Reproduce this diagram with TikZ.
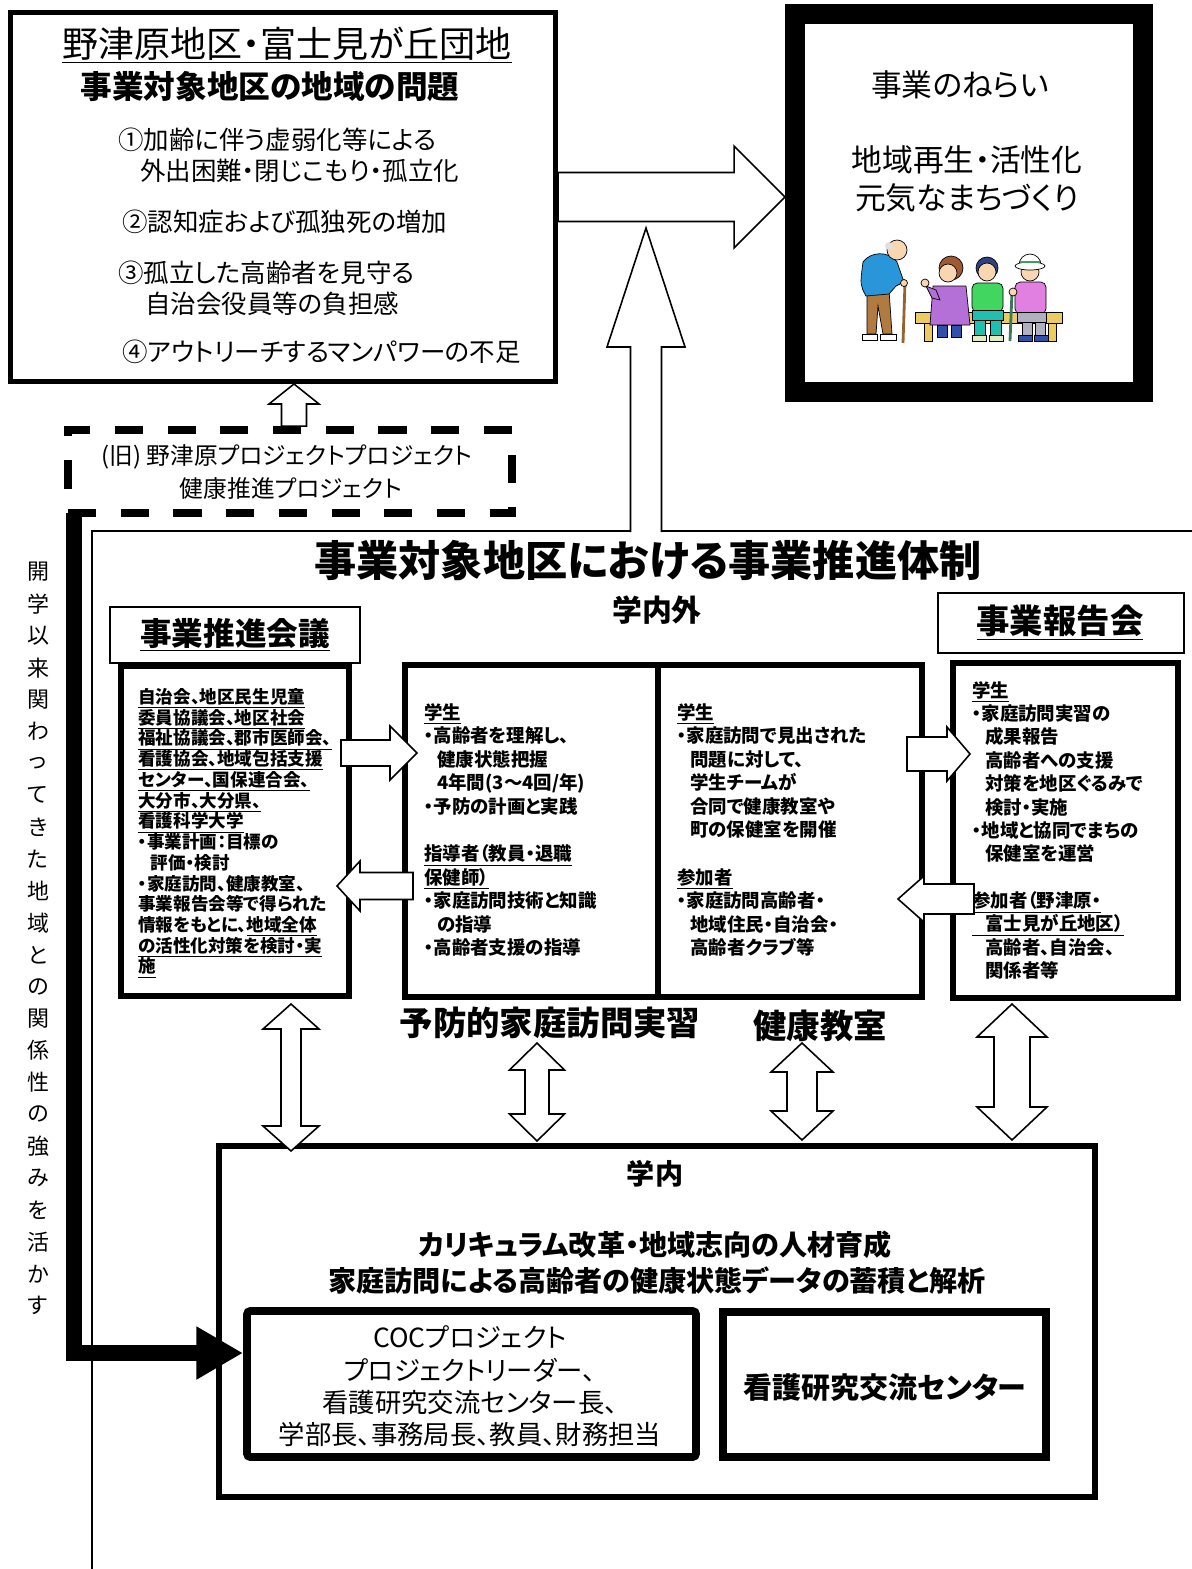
\documentclass[tikz,border=0pt]{standalone}
\usepackage{fontspec}
\setmainfont{Noto Sans CJK JP}[RawFeature=+palt]
\usetikzlibrary{calc,arrows.meta}

\definecolor{benchyellow}{RGB}{236,204,96}
\definecolor{pantbrown}{RGB}{176,122,64}
\definecolor{shirtblue}{RGB}{40,150,216}
\definecolor{skin}{RGB}{248,214,178}
\definecolor{hairbrown}{RGB}{160,90,48}
\definecolor{dresspurple}{RGB}{180,112,214}
\definecolor{legblue}{RGB}{48,80,170}
\definecolor{hairnavy}{RGB}{48,64,128}
\definecolor{shirtgreen}{RGB}{64,214,96}
\definecolor{pantteal}{RGB}{32,192,176}
\definecolor{shoecream}{RGB}{236,232,190}
\definecolor{shirtpink}{RGB}{226,128,226}
\definecolor{pantgray}{RGB}{176,176,192}
\definecolor{caneb}{RGB}{150,100,50}
\definecolor{canegreen}{RGB}{60,120,90}
\definecolor{hatgreen}{RGB}{60,160,90}

\newcommand\pxs{0.02cm}
\newcommand\indt{\hspace*{0.7em}}
% hollow block arrows: tail, tip, half shaft, half head, head length
\newcommand\arrowR[5]{\draw[hollow] ($(#1)+(0,-#3)$) -- ($(#2)+(-#5,-#3)$) -- ($(#2)+(-#5,-#4)$) -- (#2) -- ($(#2)+(-#5,#4)$) -- ($(#2)+(-#5,#3)$) -- ($(#1)+(0,#3)$) -- cycle;}
\newcommand\arrowL[5]{\draw[hollow] ($(#1)+(0,-#3)$) -- ($(#2)+(#5,-#3)$) -- ($(#2)+(#5,-#4)$) -- (#2) -- ($(#2)+(#5,#4)$) -- ($(#2)+(#5,#3)$) -- ($(#1)+(0,#3)$) -- cycle;}
\newcommand\arrowU[5]{\draw[hollow] ($(#1)+(-#3,0)$) -- ($(#2)+(-#3,#5)$) -- ($(#2)+(-#4,#5)$) -- (#2) -- ($(#2)+(#4,#5)$) -- ($(#2)+(#3,#5)$) -- ($(#1)+(#3,0)$) -- cycle;}
% double headed, top tip and bottom tip
\newcommand\arrowUD[5]{\draw[hollow] (#1) -- ($(#1)+(#4,#5)$) -- ($(#1)+(#3,#5)$) -- ($(#2)+(#3,-#5)$) -- ($(#2)+(#4,-#5)$) -- (#2) -- ($(#2)+(-#4,-#5)$) -- ($(#2)+(-#3,-#5)$) -- ($(#1)+(-#3,#5)$) -- ($(#1)+(-#4,#5)$) -- cycle;}

\tikzset{
  probbox/.style={draw, line width=2.8pt, inner sep=0},
  aimbox/.style={draw, line width=11.3pt, inner sep=0},
  unitbox/.style={draw, line width=3.4pt, inner sep=0},
  tagbox/.style={draw, line width=0.8pt, inner sep=0},
  cocbox/.style={draw, line width=4.5pt, inner sep=0, rounded corners=2pt},
  oldbox/.style={draw, line width=4.5pt, dash pattern=on 16pt off 14pt, inner sep=0},
  hollow/.style={draw, fill=white, line width=0.9pt, line join=miter},
  feeder/.style={line width=9pt, -{Triangle[length=26.6pt,width=28.4pt]}},
  item/.style={anchor=west, inner sep=0, font=\fontsize{14.5}{17}\selectfont},
  body/.style={inner sep=0, align=left, anchor=north west},
  head/.style={inner sep=0, font=\fontsize{#1}{#1}\selectfont\bfseries},
  plain/.style={inner sep=0, font=\fontsize{#1}{#1}\selectfont},
  vchar/.style={inner sep=0, font=\fontsize{12.5}{12.5}\selectfont},
  figline/.style={line width=0.4pt}
}

\begin{document}
\begin{tikzpicture}[x=0.02cm, y=-0.02cm]
\useasboundingbox (0,0) rectangle (1192,1569);

\draw[line width=0.8pt] (92,1569) -- (92,531) -- (1192,531);

% problems of the district
\node[probbox, minimum width=545*\pxs, minimum height=369*\pxs] (prob) at (283,197) {};
\node[plain=20.5] (area) at (287,45) {\underline{野津原地区・富士見が丘団地}};
\node[head=18] (issue) at (270,87) {事業対象地区の地域の問題};
\node[item] (p1a) at (118,140) {①加齢に伴う虚弱化等による};
\node[item] (p1b) at (140,171) {外出困難・閉じこもり・孤立化};
\node[item] (p2) at (122,222) {②認知症および孤独死の増加};
\node[item] (p3a) at (118,273) {③孤立した高齢者を見守る};
\node[item] (p3b) at (145,304) {自治会役員等の負担感};
\node[item] (p4) at (122,352) {④アウトリーチするマンパワーの不足};

% aims
\node[aimbox, minimum width=348*\pxs, minimum height=378*\pxs] (aims) at (969,203) {};
\node[plain=17.5] (aim1) at (960,85) {事業のねらい};
\node[plain=17.5] (aim2) at (967,160) {地域再生・活性化};
\node[plain=17.5] (aim3) at (967,198) {元気なまちづくり};

% people on the bench
\begin{scope}[figline]
\filldraw[fill=benchyellow] (915,312) rectangle (1062,323);
\filldraw[fill=benchyellow] (924,323) rectangle (932,341);
\filldraw[fill=benchyellow] (1048,323) rectangle (1056,341);
\filldraw[fill=pantbrown] (867,290) -- (889,290) -- (892,334) -- (883,334) -- (878,306) -- (876,334) -- (867,334) -- cycle;
\filldraw[fill=white] (862,334) rectangle (877,340);
\filldraw[fill=white] (880,334) rectangle (896,340);
\filldraw[fill=shirtblue] (863,262) .. controls (870,252) and (888,250) .. (897,262) -- (904,282) -- (896,286) -- (889,294) -- (866,296) .. controls (860,285) .. (863,262) -- cycle;
\filldraw[fill=skin] (897,250) circle[radius=10];
\fill[gray!25] (889,246) circle[radius=4];
\draw[line width=1.6pt, caneb] (905,283) -- (903,343);
\filldraw[fill=skin] (904,283) circle[radius=3.5];
\filldraw[fill=hairbrown] (951,268) circle[radius=12];
\filldraw[fill=skin] (948,273) circle[radius=9];
\filldraw[fill=dresspurple] (933,286) -- (966,286) -- (970,325) -- (930,325) -- cycle;
\filldraw[fill=legblue] (937,325) rectangle (947,337);
\filldraw[fill=legblue] (951,325) rectangle (961,337);
\filldraw[fill=dresspurple] (926,286) -- (936,290) -- (940,300) -- (932,298) -- cycle;
\filldraw[fill=skin] (925,283) circle[radius=4];
\filldraw[fill=hairnavy] (987,268) circle[radius=11];
\filldraw[fill=skin] (987,272) circle[radius=9];
\filldraw[fill=shirtgreen, rounded corners=3pt] (972,283) rectangle (1003,312);
\filldraw[fill=pantteal] (972,310) rectangle (1003,320);
\filldraw[fill=pantteal] (974,320) rectangle (985,337);
\filldraw[fill=pantteal] (990,320) rectangle (1001,337);
\filldraw[fill=shoecream] (972,335) rectangle (986,341);
\filldraw[fill=shoecream] (989,335) rectangle (1003,341);
\filldraw[fill=shirtpink, rounded corners=3pt] (1015,282) rectangle (1046,314);
\filldraw[fill=pantgray] (1017,312) rectangle (1046,322);
\filldraw[fill=pantgray] (1022,322) rectangle (1032,337);
\filldraw[fill=pantgray] (1035,322) rectangle (1045,337);
\filldraw[fill=legblue] (1018,335) rectangle (1032,341);
\filldraw[fill=legblue] (1034,335) rectangle (1048,341);
\filldraw[fill=skin] (1030,272) circle[radius=9];
\filldraw[fill=white] (1019,265) arc[start angle=180, end angle=360, radius=11] -- cycle;
\filldraw[fill=white] (1030,266) ellipse[x radius=15, y radius=4];
\draw[hatgreen, line width=1.2pt] (1020,262) -- (1040,262);
\draw[line width=1.6pt, canegreen] (1012,292) -- (1010,341);
\filldraw[fill=skin] (1013,292) circle[radius=4];
\end{scope}

\coordinate (aimtip) at (aims.west |- prob.east);
\arrowR{prob.east}{aimtip}{24.5}{51}{51}

\coordinate (uptail) at (646,532);
\coordinate (uptip) at (646,228);
\fill[white] ($(uptail)+(-15.5,0)$) |- ($(uptip)+(-39,119)$) -- (uptip) -- ($(uptip)+(39,119)$) -| ($(uptail)+(15.5,0)$) -- cycle;
\draw[line width=0.9pt, line join=miter] ($(uptail)+(-15.5,0)$) |- ($(uptip)+(-39,119)$) -- (uptip) -- ($(uptip)+(39,119)$) -| ($(uptail)+(15.5,0)$);

% former project
\node[oldbox, minimum width=444*\pxs, minimum height=83*\pxs] (old) at (290,471.5) {};
\node[plain=13.5] (old1) at (287,457) {(旧) 野津原プロジェクトプロジェクト};
\node[plain=13.5] (old2) at (291,489) {健康推進プロジェクト};
\coordinate (oldtop) at (294,0 |- old.north);
\coordinate (probbot) at (294,0 |- prob.south);
\arrowU{oldtop}{probbot}{12.5}{25}{20}

% promotion system
\node[head=24] (system) at (648,560) {事業対象地区における事業推進体制};
\node[head=17] (outside) at (657,610) {学内外};

\node[tagbox, minimum width=250*\pxs, minimum height=56*\pxs] (counciltag) at (235,635) {};
\node[head=18] (counciltitle) at (235,635) {\underline{事業推進会議}};
\node[unitbox, minimum width=228*\pxs, minimum height=330*\pxs] (council) at (235,831) {};
\node[body, font=\fontsize{10}{11.8}\selectfont\bfseries] (counciltext) at (138,688) {%
\underline{自治会、地区民生児童}\\
\underline{委員協議会、地区社会}\\
\underline{福祉協議会、郡市医師会、}\\
\underline{看護協会、地域包括支援}\\
\underline{センター、国保連合会、}\\
\underline{大分市、大分県、}\\
\underline{看護科学大学}\\
・事業計画：目標の\\
\indt 評価・検討\\
・家庭訪問、健康教室、\\
事業報告会等で得られた\\
情報をもとに、\underline{地域全体}\\
\underline{の活性化対策を検討・実}\\
\underline{施}};

\node[unitbox, minimum width=517*\pxs, minimum height=332*\pxs] (mid) at (663.5,831) {};
\draw[line width=3.4pt] (658,0 |- mid.north) -- (658,0 |- mid.south);
\node[body, font=\fontsize{10.5}{13.4}\selectfont\bfseries] (visit) at (424,703) {%
\underline{学生}\\
・高齢者を理解し、\\
\indt 健康状態把握\\
\indt 4年間(3～4回/年)\\
・予防の計画と実践\\[13.4pt]
\underline{指導者（教員・退職}\\
\underline{保健師）}\\
・家庭訪問技術と知識\\
\indt の指導\\
・高齢者支援の指導};
\node[body, font=\fontsize{10.5}{13.4}\selectfont\bfseries] (classroom) at (677,703) {%
\underline{学生}\\
・家庭訪問で見出された\\
\indt 問題に対して、\\
\indt 学生チームが\\
\indt 合同で健康教室や\\
\indt 町の保健室を開催\\[13.4pt]
\underline{参加者}\\
・家庭訪問高齢者・\\
\indt 地域住民・自治会・\\
\indt 高齢者クラブ等};
\node[head=19] (visitlabel) at (550,1023) {予防的家庭訪問実習};
\node[head=19] (classlabel) at (820,1026) {健康教室};

\node[tagbox, minimum width=246*\pxs, minimum height=60*\pxs] (reporttag) at (1061,623) {};
\node[head=19] (reporttitle) at (1060,623) {\underline{事業報告会}};
\node[unitbox, minimum width=225*\pxs, minimum height=335*\pxs] (report) at (1065.5,830.5) {};
\node[body, font=\fontsize{10.5}{13.3}\selectfont\bfseries] (reporttext) at (972,681) {%
\underline{学生}\\
・家庭訪問実習の\\
\indt 成果報告\\
\indt 高齢者への支援\\
\indt 対策を地区ぐるみで\\
\indt 検討・実施\\
・地域と協同でまちの\\
\indt 保健室を運営\\[13.3pt]
\underline{参加者（野津原・}\\
\underline{\indt 富士見が丘地区）}\\
\indt 高齢者、自治会、\\
\indt 関係者等};

\coordinate (c2m) at (341,753);  \coordinate (c2mtip) at (417,753);
\coordinate (m2c) at (413,886);  \coordinate (m2ctip) at (337,886);
\coordinate (m2r) at (907,754);  \coordinate (m2rtip) at (970,754);
\coordinate (r2m) at (974,899);  \coordinate (r2mtip) at (898,899);
\arrowR{c2m}{c2mtip}{13}{27}{27}
\arrowL{m2c}{m2ctip}{13.5}{25}{23}
\arrowR{m2r}{m2rtip}{17}{27}{23}
\arrowL{r2m}{r2mtip}{15}{23}{26}

% on campus
\node[unitbox, line width=3.2pt, minimum width=876*\pxs, minimum height=351*\pxs] (campus) at (657,1321.5) {};
\node[head=16] (inside) at (655,1174) {学内};
\node[head=16] (reform) at (655,1245) {カリキュラム改革・地域志向の人材育成};
\node[head=16] (data) at (657,1281) {家庭訪問による高齢者の健康状態データの蓄積と解析};
\node[cocbox, minimum width=449*\pxs, minimum height=146*\pxs] (coc) at (471.5,1384) {};
\node[plain=15, align=center, font=\fontsize{15}{18.4}\selectfont] (coctext) at (470,1386.5) {COCプロジェクト\\プロジェクトリーダー、\\看護研究交流センター長、\\学部長、事務局長、教員、財務担当};
\node[cocbox, rounded corners=0pt, minimum width=323*\pxs, minimum height=145*\pxs] (center) at (884.5,1384.5) {};
\node[head=16.5] (centertext) at (885,1388) {看護研究交流センター};

\coordinate (d1a) at (291,1004); \coordinate (d1b) at (291,1151);
\coordinate (d2a) at (537,1043); \coordinate (d2b) at (537,1141);
\coordinate (d3a) at (802,1043); \coordinate (d3b) at (802,1140);
\coordinate (d4a) at (1012,1004); \coordinate (d4b) at (1012,1140);
\arrowUD{d1a}{d1b}{10}{28}{25}
\arrowUD{d2a}{d2b}{12}{27.5}{27}
\arrowUD{d3a}{d3b}{15}{31}{29}
\arrowUD{d4a}{d4b}{18}{35}{33}

\coordinate (feed) at (74,513);
\coordinate (feedend) at (coc.west |- 0,1353);
\draw[feeder] (feed) |- (feedend);

\foreach \ch [count=\i from 0] in {開,学,以,来,関,わ,っ,て,き,た,地,域,と,の,関,係,性,の,強,み,を,活,か,す}
  \node[vchar] (v\i) at (38,{572+31.9*\i}) {\ch};
\end{tikzpicture}
\end{document}
